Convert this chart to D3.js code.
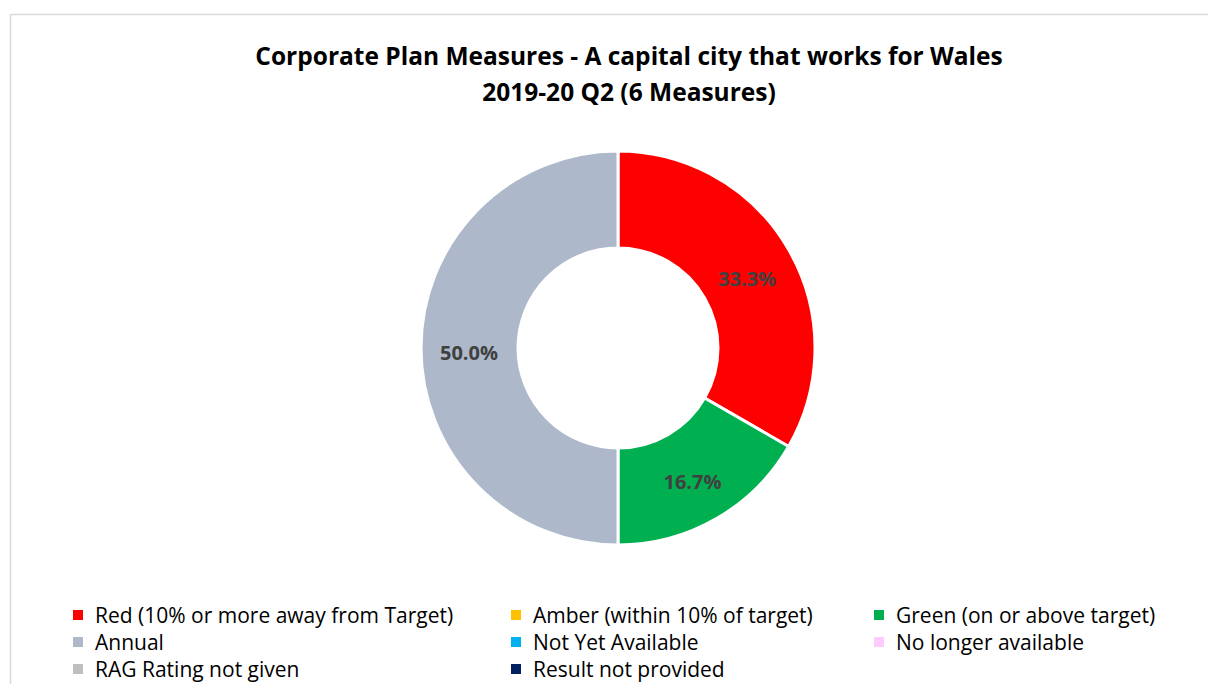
<!DOCTYPE html>
<html>
<head>
<meta charset="utf-8" />
<script src="https://cdnjs.cloudflare.com/ajax/libs/d3/7.8.5/d3.min.js"></script>
<style>
  body { margin: 0; background: #fff; }
  svg { display: block; }
</style>
</head>
<body>
<svg id="canvas" width="1208" height="684"></svg>
<script>
const categories = [
  "Red (10% or more away from Target)",
  "Amber (within 10% of target)",
  "Green (on or above target)",
  "Annual",
  "Not Yet Available",
  "No longer available",
  "RAG Rating not given",
  "Result not provided",
];
const measureCounts = [2, 0, 1, 3, 0, 0, 0, 0];
const sliceColors = [
  "#FF0000", "#FFC000", "#00B050", "#ADB9CA",
  "#00B0F0", "#FFCCFF", "#BFBFBF", "#002060",
];
const titleLines = [
  "Corporate Plan Measures - A capital city that works for Wales",
  "2019-20 Q2 (6 Measures)",
];

const canvas = d3.select("#canvas");
const fontFamily = "'Open Sans', sans-serif";

// chart area frame (runs off the right and bottom of the picture)
canvas
  .append("rect")
  .attr("x", 10.5)
  .attr("y", 14.5)
  .attr("width", 1220)
  .attr("height", 700)
  .attr("fill", "#fff")
  .attr("stroke", "#d9d9d9")
  .attr("stroke-width", 1.5);

canvas
  .selectAll("text.title")
  .data(titleLines)
  .enter()
  .append("text")
  .attr("class", "title")
  .attr("x", 629)
  .attr("y", (d, i) => 65 + i * 36)
  .attr("text-anchor", "middle")
  .attr("font-family", fontFamily)
  .attr("font-weight", "bold")
  .attr("font-size", 24.5)
  .attr("fill", "#000")
  .text((d) => d);

const drawDonut = () => {
  const total = d3.sum(measureCounts);
  const slices = categories.map((name, i) => ({
    name: name,
    value: measureCounts[i],
    color: sliceColors[i],
  }));

  const pie = d3.pie().value((d) => d.value).sort(null);
  const arc = d3.arc().innerRadius(100).outerRadius(197);
  const labelArc = d3.arc().innerRadius(149).outerRadius(149);

  const donut = canvas
    .append("g")
    .attr("transform", "translate(618, 348)");

  const arcs = pie(slices).filter((d) => d.data.value > 0);

  donut
    .selectAll("path")
    .data(arcs)
    .enter()
    .append("path")
    .attr("d", arc)
    .attr("fill", (d) => d.data.color)
    .attr("stroke", "#fff")
    .attr("stroke-width", 3);

  donut
    .selectAll("text")
    .data(arcs)
    .enter()
    .append("text")
    .attr("transform", (d) => `translate(${labelArc.centroid(d)})`)
    .attr("dy", "0.6em")
    .attr("text-anchor", "middle")
    .attr("font-family", fontFamily)
    .attr("font-weight", "bold")
    .attr("font-size", 20)
    .attr("fill", "#404040")
    .text((d) => d3.format(".1%")(d.data.value / total));
};

const drawLegend = () => {
  const columnX = [73, 511, 874];
  const legend = canvas
    .selectAll("g.legend")
    .data(categories)
    .enter()
    .append("g")
    .attr("class", "legend")
    .attr(
      "transform",
      (d, i) => `translate(${columnX[i % 3]}, ${615 + Math.floor(i / 3) * 27})`
    );

  legend
    .append("rect")
    .attr("x", 0)
    .attr("y", -5)
    .attr("width", 10)
    .attr("height", 10)
    .attr("fill", (d, i) => sliceColors[i]);

  legend
    .append("text")
    .attr("x", 22)
    .attr("dy", "0.36em")
    .attr("font-family", fontFamily)
    .attr("font-size", 21)
    .attr("fill", "#000")
    .text((d) => d);
};

drawDonut();
drawLegend();
</script>
</body>
</html>
